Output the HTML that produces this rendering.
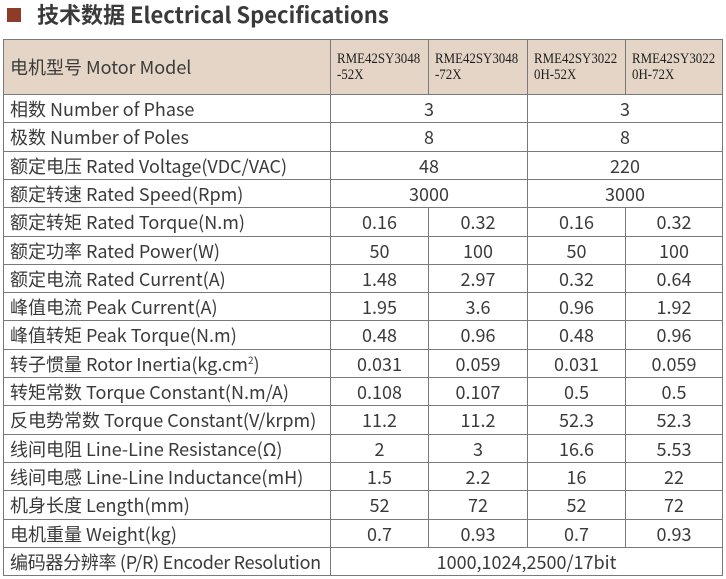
<!DOCTYPE html>
<html><head><meta charset="utf-8">
<style>
html,body{margin:0;padding:0;background:#fff;}
body{width:726px;height:579px;position:relative;overflow:hidden;font-family:"Noto Sans CJK SC","Liberation Sans",sans-serif;color:#3a3a3a;}
.sq{position:absolute;left:7px;top:8px;width:14px;height:14px;background:#8e3b27;}
.title{position:absolute;left:37px;top:-2px;font-size:22px;font-weight:700;color:#3a3a3a;line-height:32px;white-space:nowrap;}
table{position:absolute;left:3px;top:39px;border-collapse:collapse;table-layout:fixed;width:719px;}
td{border:1px solid #7a7a7a;padding:0;font-size:18px;line-height:20px;text-align:center;white-space:nowrap;overflow:hidden;vertical-align:middle;}
td.l{text-align:left;padding-left:6px;}
tr.h td{background:#e5d5c6;}
td.m{text-align:left;padding-left:6px;}
td.m span{display:inline-block;font-family:"Liberation Serif",serif;font-size:15px;line-height:16px;color:#1e1e1e;transform:scaleX(0.86);transform-origin:0 50%;}
sup{font-size:10px;line-height:0;vertical-align:7px;}
td.enc{letter-spacing:-0.3px;}
</style></head><body>
<div class="sq"></div>
<div class="title">技术数据 Electrical Specifications</div>
<table>
<colgroup><col style="width:327px"><col style="width:98px"><col style="width:99px"><col style="width:98px"><col style="width:97px"></colgroup>
<tr class="h" style="height:55px"><td class="l">电机型号 Motor Model</td><td class="m"><span>RME42SY3048<br>-52X</span></td><td class="m"><span>RME42SY3048<br>-72X</span></td><td class="m"><span>RME42SY3022<br>0H-52X</span></td><td class="m"><span>RME42SY3022<br>0H-72X</span></td></tr>
<tr style="height:28px"><td class="l">相数 Number of Phase</td><td colspan="2">3</td><td colspan="2">3</td></tr>
<tr style="height:29px"><td class="l">极数 Number of Poles</td><td colspan="2">8</td><td colspan="2">8</td></tr>
<tr style="height:28px"><td class="l">额定电压 Rated Voltage(VDC/VAC)</td><td colspan="2">48</td><td colspan="2">220</td></tr>
<tr style="height:28px"><td class="l">额定转速 Rated Speed(Rpm)</td><td colspan="2">3000</td><td colspan="2">3000</td></tr>
<tr style="height:29px"><td class="l">额定转矩 Rated Torque(N.m)</td><td>0.16</td><td>0.32</td><td>0.16</td><td>0.32</td></tr>
<tr style="height:28px"><td class="l">额定功率 Rated Power(W)</td><td>50</td><td>100</td><td>50</td><td>100</td></tr>
<tr style="height:28px"><td class="l">额定电流 Rated Current(A)</td><td>1.48</td><td>2.97</td><td>0.32</td><td>0.64</td></tr>
<tr style="height:28px"><td class="l">峰值电流 Peak Current(A)</td><td>1.95</td><td>3.6</td><td>0.96</td><td>1.92</td></tr>
<tr style="height:29px"><td class="l">峰值转矩 Peak Torque(N.m)</td><td>0.48</td><td>0.96</td><td>0.48</td><td>0.96</td></tr>
<tr style="height:28px"><td class="l">转子惯量 Rotor Inertia(kg.cm<sup>2</sup>)</td><td>0.031</td><td>0.059</td><td>0.031</td><td>0.059</td></tr>
<tr style="height:28px"><td class="l">转矩常数 Torque Constant(N.m/A)</td><td>0.108</td><td>0.107</td><td>0.5</td><td>0.5</td></tr>
<tr style="height:29px"><td class="l">反电势常数 Torque Constant(V/krpm)</td><td>11.2</td><td>11.2</td><td>52.3</td><td>52.3</td></tr>
<tr style="height:28px"><td class="l">线间电阻 Line-Line Resistance(Ω)</td><td>2</td><td>3</td><td>16.6</td><td>5.53</td></tr>
<tr style="height:28px"><td class="l">线间电感 Line-Line Inductance(mH)</td><td>1.5</td><td>2.2</td><td>16</td><td>22</td></tr>
<tr style="height:29px"><td class="l">机身长度 Length(mm)</td><td>52</td><td>72</td><td>52</td><td>72</td></tr>
<tr style="height:28px"><td class="l">电机重量 Weight(kg)</td><td>0.7</td><td>0.93</td><td>0.7</td><td>0.93</td></tr>
<tr style="height:28px"><td class="l enc">编码器分辨率 (P/R) Encoder Resolution</td><td colspan="4">1000,1024,2500/17bit</td></tr>
</table>
</body></html>
